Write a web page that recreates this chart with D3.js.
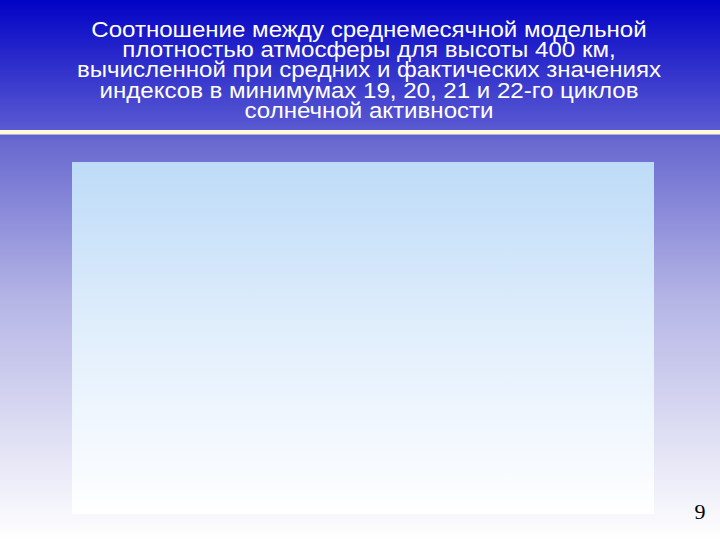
<!DOCTYPE html>
<html>
<head>
<meta charset="utf-8">
<script src="https://cdn.jsdelivr.net/npm/d3@7"></script>
<style>
  body { margin:0; padding:0; overflow:hidden; }
</style>
</head>
<body>
<div id="slide"></div>
<script>
var fullWidth = 720;
var fullHeight = 540;

// title lines of the slide
var titleLines = [
  "Соотношение между среднемесячной модельной",
  "плотностью атмосферы для высоты 400 км,",
  "вычисленной при средних и фактических значениях",
  "индексов в минимумах 19, 20, 21 и 22-го циклов",
  "солнечной активности"
];
var pageNumber = ["9"];

var svg = d3.select("#slide")
  .append("svg")
  .attr("width", fullWidth)
  .attr("height", fullHeight);

var defs = svg.append("defs");

// background: deep blue at top, fading to white
var bg = defs.append("linearGradient")
  .attr("id", "bg").attr("x1", 0).attr("y1", 0).attr("x2", 0).attr("y2", 1);
bg.append("stop").attr("offset", "0%").attr("stop-color", "#0202c6");
bg.append("stop").attr("offset", "24%").attr("stop-color", "#5a5ad2");
bg.append("stop").attr("offset", "26%").attr("stop-color", "#6868d0");
bg.append("stop").attr("offset", "55%").attr("stop-color", "#b4b4e6");
bg.append("stop").attr("offset", "100%").attr("stop-color", "#ffffff");

// picture area: light blue to white
var pic = defs.append("linearGradient")
  .attr("id", "pic").attr("x1", 0).attr("y1", 0).attr("x2", 0).attr("y2", 1);
pic.append("stop").attr("offset", "0%").attr("stop-color", "#bddbf8");
pic.append("stop").attr("offset", "50%").attr("stop-color", "#e2effc");
pic.append("stop").attr("offset", "100%").attr("stop-color", "#ffffff");

svg.append("rect")
  .attr("width", fullWidth).attr("height", fullHeight)
  .attr("fill", "url(#bg)");

// pale separator under the title
svg.append("rect")
  .attr("x", 0).attr("y", 130)
  .attr("width", fullWidth).attr("height", 4.5)
  .attr("fill", "#fffbd8");

// empty chart area
svg.append("rect")
  .attr("x", 72).attr("y", 162)
  .attr("width", 582).attr("height", 352)
  .attr("fill", "url(#pic)");

// title (slightly widened to match the slide's font)
var yLine = d3.scaleLinear().domain([0, titleLines.length - 1]).range([37, 118]);
svg.append("g")
  .attr("transform", "translate(369,0) scale(1.095,1)")
  .selectAll("text")
  .data(titleLines)
  .enter()
  .append("text")
  .attr("x", 0)
  .attr("y", function(d, i){ return yLine(i); })
  .attr("text-anchor", "middle")
  .attr("font-family", "'Liberation Sans', Arial, sans-serif")
  .attr("font-size", 22)
  .attr("fill", "#ffffff")
  .text(function(d){ return d; });

// slide number
svg.selectAll("text.num")
  .data(pageNumber)
  .enter()
  .append("text")
  .attr("class", "num")
  .attr("x", 700)
  .attr("y", 519)
  .attr("text-anchor", "middle")
  .attr("font-family", "'Liberation Serif', 'Times New Roman', serif")
  .attr("font-size", 22)
  .attr("fill", "#000000")
  .text(function(d){ return d; });
</script>
</body>
</html>
